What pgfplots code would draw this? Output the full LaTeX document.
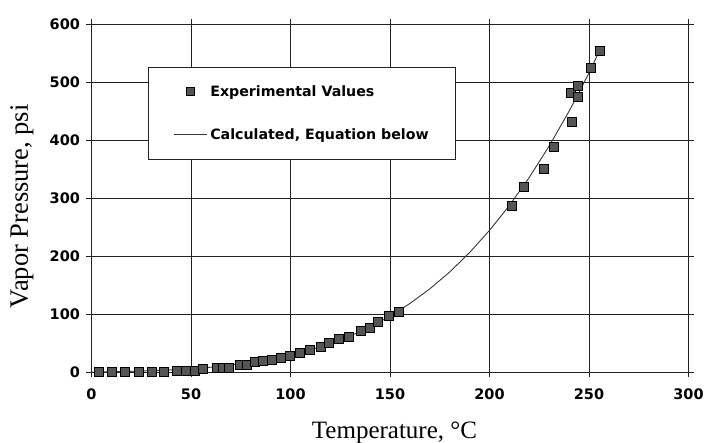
\documentclass[border=0pt]{standalone}
\usepackage{fontspec}
\setmainfont{DejaVu Sans}
\newfontfamily\labelfont{Liberation Serif}
\usepackage{pgfplots}
\pgfplotsset{compat=1.18}
\definecolor{markgray}{RGB}{85,85,85}
\definecolor{linegray}{RGB}{55,55,55}
\definecolor{gridc}{RGB}{35,35,35}
\pgfplotsset{
  mylinelegend/.style={legend image code/.code={\path (0pt,0pt) (33pt,0pt); \draw[##1] (0pt,0pt) -- (33pt,0pt);}},
  mymarklegend/.style={legend image code/.code={\path (0pt,0pt) (33pt,0pt); \draw[##1, mark size=4pt] plot coordinates {(16.5pt,0pt)};}},
}
\begin{document}
\begin{tikzpicture}
\begin{axis}[
  width=597pt, height=348.5pt, scale only axis,
  xmin=0, xmax=300, ymin=0, ymax=600,
  xtick={0,50,...,300}, ytick={0,100,...,600},
  grid=major, major grid style={gridc, line width=0.8pt},
  axis line style={gridc, line width=0.8pt},
  tick align=outside, major tick length=5pt,
  tick style={gridc, line width=0.8pt},
  ticklabel style={font=\fontsize{14.5}{17}\selectfont\bfseries},
  xticklabel style={yshift=-8pt},
  yticklabel style={xshift=-3pt},
  /pgf/number format/assume math mode=true,
  xlabel={Temperature, °C},
  ylabel={Vapor Pressure, psi},
  xlabel style={font=\labelfont\fontsize{25}{30}\selectfont, at={(axis description cs:0.5075,-0.1894)}, anchor=base},
  ylabel style={font=\labelfont\fontsize{26.5}{30}\selectfont, at={(axis description cs:-0.1064,0.477)}, anchor=base},
  legend style={at={(axis cs:28.4,526.7)}, anchor=north west,
    draw=gridc, line width=0.8pt, inner xsep=25pt, inner ysep=16.5pt,
    row sep=27pt, column sep=1pt,
    nodes={inner xsep=2pt},
    font=\fontsize{14.2}{17}\selectfont\bfseries,
    cells={anchor=west}},
  legend cell align=left,
  reverse legend,
]
\addplot[linegray, line width=0.9pt, mylinelegend]
  table[row sep=\\] {
x y \\
0 0.8 \\ 20 2.0 \\ 40 4.5 \\ 60 9.1 \\ 80 17.1 \\ 100 30.0 \\ 110 38.9 \\
120 49.7 \\ 130 62.9 \\ 140 78.5 \\ 150 97.0 \\ 160 118.8 \\ 170 144 \\
180 173 \\ 190 206.5 \\ 200 244.7 \\ 210 287.6 \\ 220 336 \\ 230 390 \\
240 450 \\ 245 482 \\ 250 516 \\ 255 552 \\
};
\addlegendentry{Calculated, Equation below}
\addplot[only marks, mark=square*, mark size=4.5pt,
  mark options={fill=markgray, draw=black, line width=0.7pt}, mymarklegend]
  table[row sep=\\] {
x y \\
3.9 0.5 \\ 10.3 0.5 \\ 16.8 1.2 \\ 24.0 1.2 \\ 30.2 1.2 \\ 36.4 1.2 \\
42.8 2.3 \\ 47.5 2.3 \\ 52.0 2.3 \\ 55.9 5.8 \\ 63.2 8.2 \\ 65.9 8.2 \\
68.8 8.2 \\ 74.3 12.9 \\ 78.3 14.0 \\ 82.2 17.5 \\ 86.3 19.9 \\ 90.7 22.2 \\
95.1 24.6 \\ 99.7 29.2 \\ 104.8 33.9 \\ 109.5 38.6 \\ 115.2 44.4 \\
119.5 51.5 \\ 124.5 57.3 \\ 129.1 62.0 \\ 135.4 71.3 \\ 140.0 77.2 \\
144.1 87.7 \\ 149.2 97.0 \\ 154.2 104.0 \\
211.2 287 \\ 217.2 319 \\ 227.2 351 \\ 232.4 388 \\ 241.6 431 \\
240.8 481 \\ 244.6 475 \\ 244.6 493 \\ 251.0 525 \\ 255.5 553 \\
};
\addlegendentry{Experimental Values}
\end{axis}
\pgfresetboundingbox
\path[use as bounding box] (-91.5pt,-70.5pt) rectangle (614.5pt,372.5pt);
\end{tikzpicture}
\end{document}
